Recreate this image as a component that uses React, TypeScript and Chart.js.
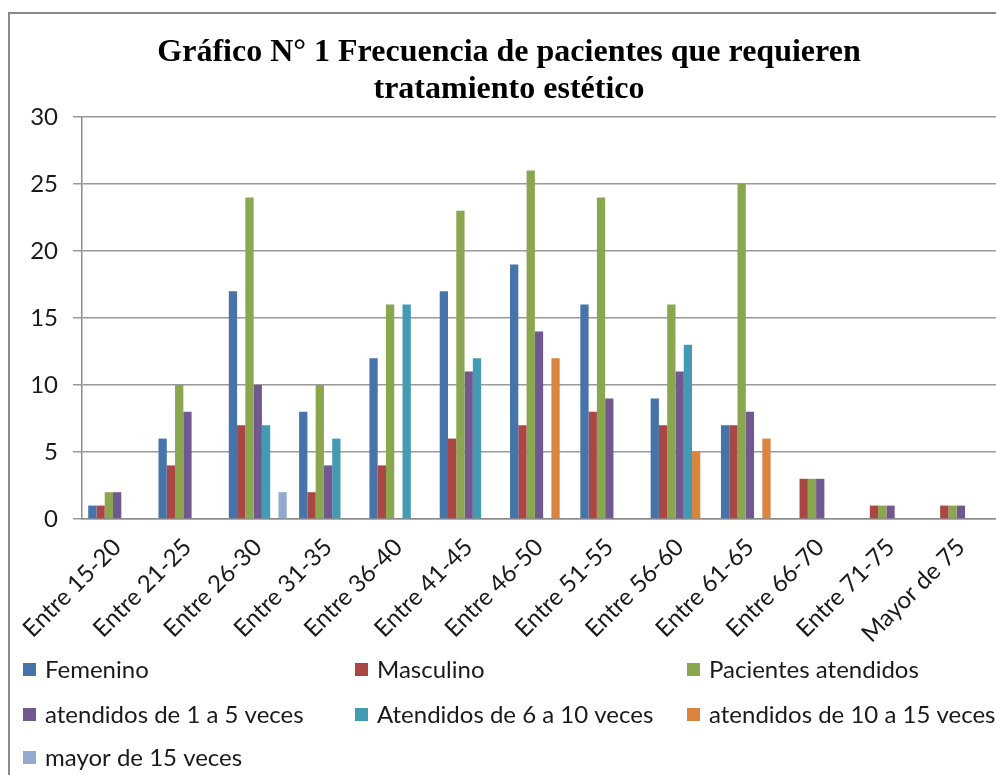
import React, { useEffect, useRef } from "react";
import { Chart, registerables } from "chart.js";

Chart.register(...registerables);

const titleLines = ["Gráfico N° 1 Frecuencia de pacientes que requieren", "tratamiento estético"];

const categories = [
  "Entre 15-20", "Entre 21-25", "Entre 26-30", "Entre 31-35", "Entre 36-40",
  "Entre 41-45", "Entre 46-50", "Entre 51-55", "Entre 56-60", "Entre 61-65",
  "Entre 66-70", "Entre 71-75", "Mayor de 75",
];

const seriesNames = [
  "Femenino", "Masculino", "Pacientes atendidos", "atendidos de 1 a 5 veces",
  "Atendidos de 6 a 10 veces", "atendidos de 10 a 15 veces", "mayor de 15 veces",
];

const femenino = [1, 6, 17, 8, 12, 17, 19, 16, 9, 7, null, null, null];
const masculino = [1, 4, 7, 2, 4, 6, 7, 8, 7, 7, 3, 1, 1];
const pacientesAtendidos = [2, 10, 24, 10, 16, 23, 26, 24, 16, 25, 3, 1, 1];
const de1a5 = [2, 8, 10, 4, null, 11, 14, 9, 11, 8, 3, 1, 1];
const de6a10 = [null, null, 7, 6, 16, 12, null, null, 13, null, null, null, null];
const de10a15 = [null, null, null, null, null, null, 12, null, 5, 6, null, null, null];
const mayor15 = [null, null, 2, null, null, null, null, null, null, null, null, null, null];

const colors = ["#4674AA", "#AA4644", "#8AA64E", "#715891", "#429BB2", "#DB843D", "#93A9CF"];

const yTicks = [0, 5, 10, 15, 20, 25, 30];

const FONT = "Lato, 'Liberation Sans', sans-serif";

const framePlugin = {
  id: "frame",
  beforeDraw(chart: any) {
    const ctx = chart.ctx;
    ctx.save();
    ctx.fillStyle = "#ffffff";
    ctx.fillRect(0, 0, chart.width, chart.height);
    ctx.strokeStyle = "#8a8a8a";
    ctx.lineWidth = 2;
    ctx.strokeRect(9, 13, chart.width + 20, chart.height + 20);
    ctx.restore();
  },
  afterDraw(chart: any) {
    const ctx = chart.ctx;
    ctx.save();
    // title
    ctx.fillStyle = "#000";
    ctx.textAlign = "center";
    ctx.textBaseline = "middle";
    ctx.font = "bold 32px 'Liberation Serif', 'Times New Roman', serif";
    ctx.fillText(titleLines[0], 509, 53);
    ctx.fillText(titleLines[1], 509, 90);
    // legend
    const colX = [23, 355, 687];
    const rowY = [670, 715, 758];
    ctx.textAlign = "left";
    ctx.font = "24px " + FONT;
    chart.data.datasets.forEach((ds: any, i: number) => {
      const cx = colX[i % 3];
      const cy = rowY[Math.floor(i / 3)];
      ctx.fillStyle = ds.backgroundColor;
      ctx.fillRect(cx, cy - 7, 13, 13);
      ctx.fillStyle = "#1a1a1a";
      ctx.fillText(ds.label, cx + 22, cy);
    });
    ctx.restore();
  },
};

export default function App() {
  const ref = useRef<HTMLCanvasElement>(null);

  useEffect(() => {
    const values = [femenino, masculino, pacientesAtendidos, de1a5, de6a10, de10a15, mayor15];
    const chart = new Chart(ref.current!, {
      type: "bar",
      data: {
        labels: categories,
        datasets: values.map((v, i) => ({
          label: seriesNames[i],
          data: v,
          backgroundColor: colors[i],
          borderWidth: 0,
          categoryPercentage: 0.824,
          barPercentage: 1,
        })),
      },
      options: {
        animation: false,
        responsive: false,
        layout: { padding: { top: 117, left: 0, right: 0, bottom: 0 } },
        plugins: {
          legend: { display: false },
          title: { display: false },
          tooltip: { enabled: false },
        },
        scales: {
          x: {
            offset: true,
            grid: { display: false },
            border: { display: true, color: "#8c8c8c", width: 1.5 },
            ticks: {
              autoSkip: false,
              maxRotation: 45,
              minRotation: 45,
              color: "#1a1a1a",
              padding: 6,
              font: { family: FONT, size: 24 },
            },
            afterFit: (s: any) => { s.height = 256; },
          },
          y: {
            min: 0,
            max: 30,
            afterBuildTicks: (s: any) => { s.ticks = yTicks.map((v) => ({ value: v })); },
            grid: { color: "#9a9a9a", lineWidth: 1.5, tickLength: 9, drawTicks: true },
            border: { display: true, color: "#8c8c8c", width: 1.5 },
            ticks: {
              color: "#1a1a1a",
              padding: 15,
              font: { family: FONT, size: 24 },
            },
            afterFit: (s: any) => { s.width = 82; },
          },
        },
      },
      plugins: [framePlugin],
    });
    return () => chart.destroy();
  }, []);

  return (
    <div style={{ position: "absolute", left: 0, top: 0, width: 996, height: 775, overflow: "hidden" }}>
      <canvas ref={ref} width={996} height={775} style={{ display: "block" }} />
    </div>
  );
}
